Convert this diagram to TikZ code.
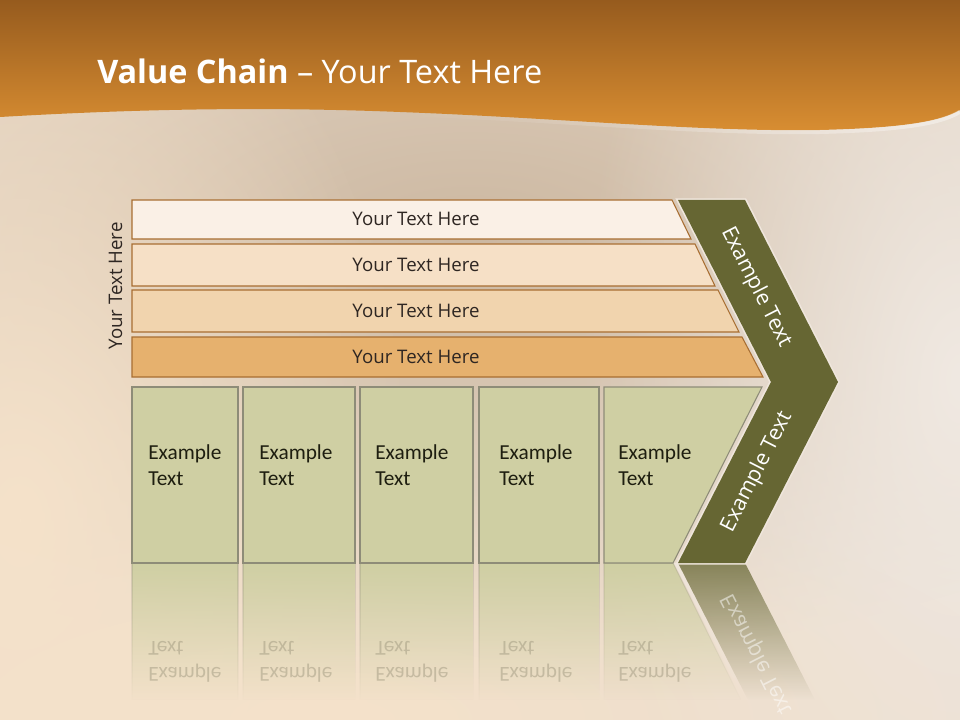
\documentclass[tikz,border=0pt]{standalone}
\usepackage{fontspec}
\setmainfont{Open Sans}
\newfontfamily\calib{Carlito}
\usetikzlibrary{fadings}
\tikzfading[name=softblob, inner color=transparent!0, outer color=transparent!100]
\definecolor{bgBase}{HTML}{EADDCF}
\definecolor{bgTan}{HTML}{C9B49C}
\definecolor{bgLight}{HTML}{F0E9E2}
\definecolor{bgPeach}{HTML}{F5E2CA}
\definecolor{hdrTop}{HTML}{965B1E}
\definecolor{hdrMid}{HTML}{BC7A2C}
\definecolor{hdrBot}{HTML}{D98E32}
\definecolor{barA}{HTML}{FAF0E6}
\definecolor{barB}{HTML}{F6E0C6}
\definecolor{barC}{HTML}{F1D4AE}
\definecolor{barD}{HTML}{E6B16E}
\definecolor{barLine}{HTML}{A86E32}
\definecolor{boxFill}{HTML}{CFCFA3}
\definecolor{boxLine}{HTML}{8E8C78}
\definecolor{olive}{HTML}{666633}
\definecolor{txtDark}{HTML}{2E2622}
\definecolor{boxTxt}{HTML}{1E1E10}
\definecolor{gapCol}{HTML}{EFE6DC}
\definecolor{reflTxt}{HTML}{8E8870}
\begin{document}
\begin{tikzpicture}[x=0.75pt,y=-0.75pt,
  blob/.style={path fading=softblob},
  barshape/.style={draw=barLine, line width=0.8pt},
  boxshape/.style={fill=boxFill, draw=boxLine, line width=0.8pt},
  reflbox/.style={fill=boxFill, draw=boxLine, draw opacity=0.3, line width=0.8pt, path fading=south},
  bartext/.style={font=\fontsize{14}{17}\selectfont, text=txtDark, anchor=base, inner sep=0pt},
  boxtext/.style={font=\calib\fontsize{16}{19}\selectfont, text=boxTxt, anchor=base west, inner sep=0pt},
  refltext/.style={font=\calib\fontsize{16}{19}\selectfont, text=reflTxt, opacity=0.4, anchor=base west, inner sep=0pt, yscale=-1},
  chvtext/.style={font=\fontsize{16}{19}\selectfont, text=white, inner sep=0pt}]
\useasboundingbox (0,0) rectangle (960,720);
% background
\fill[bgBase] (0,0) rectangle (960,720);
\fill[bgTan, blob, opacity=0.9] (470,240) ellipse (900 and 420);
\fill[bgLight, blob] (960,380) ellipse (380 and 700);
\fill[bgPeach, blob] (20,520) ellipse (400 and 640);
\fill[bgPeach, blob] (330,720) ellipse (700 and 240);
% header
\shade[top color=hdrTop, middle color=hdrMid, bottom color=hdrBot]
  (0,0) -- (960,0) -- (960,110)
  .. controls (940,122) and (900,128) .. (820,130)
  .. controls (700,132) and (560,118) .. (400,112)
  .. controls (250,106) and (120,110) .. (0,117) -- cycle;
\draw[white, opacity=0.4, line width=3pt, path fading=west]
  (960,112) .. controls (940,124) and (900,130) .. (820,132)
  .. controls (700,134) and (560,120) .. (400,114);
\node[anchor=base west, inner sep=0pt, text=white, font=\fontsize{24.3}{28}\selectfont] (title) at (97,84) {\textbf{Value Chain} – Your Text Here};
% reflections
\fill[reflbox] (132,563) rectangle (238,700);
\fill[reflbox] (243,563) rectangle (355,700);
\fill[reflbox] (360,563) rectangle (473,700);
\fill[reflbox] (479,563) rectangle (599,700);
\fill[reflbox] (604,563) -- (673,563) -- (741,700) -- (604,700) -- cycle;
\fill[gapCol, path fading=south] (674,563) -- (678,563) -- (748,700) -- (744,700) -- cycle;
\fill[olive, fill opacity=0.75, path fading=south] (678,563) -- (745,563) -- (815,700) -- (748,700) -- cycle;
\foreach \i/\x in {1/148,2/259,3/375,4/499,5/618}{
  \node[refltext] (ra\i) at (\x,667) {Example};
  \node[refltext] (rb\i) at (\x,641) {Text};
}
\node[chvtext, opacity=0.5, rotate=-63, yscale=-1] (rchv) at (757,654) {Example Text};
% bars
\filldraw[barshape, fill=barA] (132,200) -- (672,200) -- (691,239) -- (132,239) -- cycle;
\filldraw[barshape, fill=barB] (132,244) -- (695,244) -- (715,286) -- (132,286) -- cycle;
\filldraw[barshape, fill=barC] (132,290) -- (718,290) -- (739,332) -- (132,332) -- cycle;
\filldraw[barshape, fill=barD] (132,337) -- (742,337) -- (763,377) -- (132,377) -- cycle;
\node[bartext] (bt1) at (416,225.5) {Your Text Here};
\node[bartext] (bt2) at (416,272) {Your Text Here};
\node[bartext] (bt3) at (416,317.5) {Your Text Here};
\node[bartext] (bt4) at (416,363) {Your Text Here};
\node[bartext, rotate=90] (vlab) at (122,286) {Your Text Here};
% boxes
\filldraw[boxshape] (132,387) rectangle (238,563);
\filldraw[boxshape] (243,387) rectangle (355,563);
\filldraw[boxshape] (360,387) rectangle (473,563);
\filldraw[boxshape] (479,387) rectangle (599,563);
\filldraw[boxshape] (604,387) -- (762,387) -- (673,563) -- (604,563) -- cycle;
\foreach \i/\x in {1/148,2/259,3/375,4/499,5/618}{
  \node[boxtext] (ea\i) at (\x,459) {Example};
  \node[boxtext] (eb\i) at (\x,485) {Text};
}
% chevron
\filldraw[fill=olive, draw=gapCol, line width=2.5pt, line join=miter]
  (678,200) -- (745,200) -- (838,382) -- (745,563) -- (678,563) -- (771,382) -- cycle;
\fill[olive] (678,200) -- (745,200) -- (838,382) -- (745,563) -- (678,563) -- (771,382) -- cycle;
\node[chvtext, rotate=-63] (chv1) at (756,287) {Example Text};
\node[chvtext, rotate=63] (chv2) at (757,472) {Example Text};
\end{tikzpicture}
\end{document}
